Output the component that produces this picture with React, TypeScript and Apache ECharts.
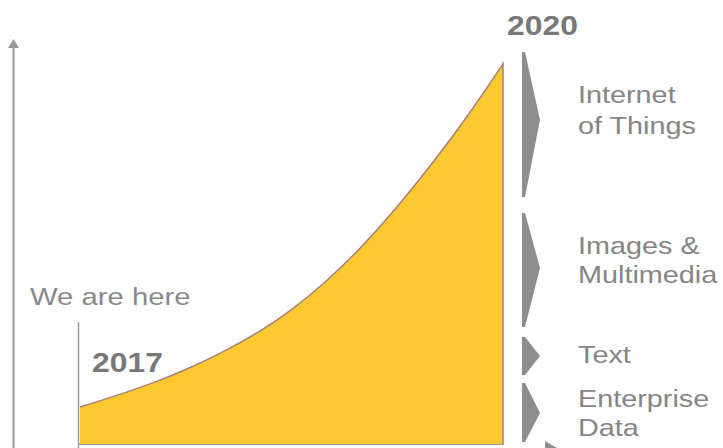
import React, { useEffect, useRef } from "react";
import * as echarts from "echarts";

// Data (x = year, y = relative data volume, 0..100)
const years = [2017, 2017.25, 2017.5, 2017.75, 2018, 2018.25, 2018.5, 2018.75, 2019, 2019.25, 2019.5, 2019.75, 2020];
const volume = [9.7, 12.6, 15.8, 19.5, 23.9, 29.0, 35.2, 42.8, 51.8, 62.2, 73.6, 86.0, 99.5];

const startLabel = "2017";
const endLabel = "2020";
const hereLabel = "We are here";
const sourceLabels = [
  ["Internet", "of Things"],
  ["Images &", "Multimedia"],
  ["Text"],
  ["Enterprise", "Data"],
];

const FONT = "'Liberation Sans', Arial, Helvetica, sans-serif";
const GRAY_TEXT = "#858585";
const GRAY_SHAPE = "#8e8e8e";

export default function App() {
  const ref = useRef<HTMLDivElement>(null);

  useEffect(() => {
    if (!ref.current) return;
    const chart = echarts.init(ref.current, undefined, { renderer: "svg" });

    const chevrons = [
      { top: 52, tip: 120, bot: 197 },
      { top: 213, tip: 268, bot: 327 },
      { top: 337, tip: 356, bot: 375 },
      { top: 383, tip: 413, bot: 442 },
    ];
    const labelY = [
      [95, 126],
      [246, 275],
      [355],
      [399, 428],
    ];

    const textEl = (t: string, x: number, y: number, size: number, bold: boolean, sx: number, color: string) => ({
      type: "text",
      x,
      y,
      scaleX: sx,
      style: {
        text: t,
        fill: color,
        font: `${bold ? "bold " : ""}${size}px ${FONT}`,
        textAlign: "left",
        textVerticalAlign: "middle",
      },
      silent: true,
    });

    const graphics: any[] = [
      // left axis with arrow
      {
        type: "line",
        shape: { x1: 13.5, y1: 44, x2: 13.5, y2: 448 },
        style: { stroke: "#9a9a9a", lineWidth: 2 },
        silent: true,
      },
      {
        type: "polygon",
        shape: { points: [[13.5, 39], [8, 48], [19, 48]] },
        style: { fill: "#9a9a9a" },
        silent: true,
      },
      // "we are here" marker line
      {
        type: "line",
        shape: { x1: 78.5, y1: 322, x2: 78.5, y2: 448 },
        style: { stroke: "#9a9a9a", lineWidth: 1.5 },
        silent: true,
      },
      // small arrow at bottom
      {
        type: "polygon",
        shape: { points: [[545, 441], [557, 448], [545, 448]] },
        style: { fill: GRAY_SHAPE },
        silent: true,
      },
      textEl(endLabel, 507, 25, 27, true, 1.18, "#787878"),
      textEl(startLabel, 92, 362, 27, true, 1.18, "#787878"),
      textEl(hereLabel, 30, 297, 24, false, 1.22, "#8a8a8a"),
    ];

    chevrons.forEach((c) => {
      graphics.push({
        type: "polygon",
        shape: {
          points: [
            [522, c.top],
            [525, c.top],
            [540, c.tip],
            [525, c.bot],
            [522, c.bot],
          ],
        },
        style: { fill: GRAY_SHAPE },
        silent: true,
      });
    });

    sourceLabels.forEach((lines, i) => {
      lines.forEach((l, j) => {
        graphics.push(textEl(l, 578, labelY[i][j], 24, false, 1.2, GRAY_TEXT));
      });
    });

    chart.setOption({
      animation: false,
      backgroundColor: "#ffffff",
      grid: { left: 80, right: 220, top: 62, bottom: 4, containLabel: false },
      xAxis: {
        type: "value",
        min: 2017,
        max: 2020,
        axisLine: { show: true, lineStyle: { color: "#9a9a9a", width: 2 } },
        axisTick: { show: false },
        axisLabel: { show: false },
        splitLine: { show: false },
      },
      yAxis: {
        type: "value",
        min: 0,
        max: 100,
        show: false,
        splitLine: { show: false },
      },
      series: [
        {
          type: "line",
          data: years.map((y, i) => [y, volume[i]]),
          smooth: 0.5,
          showSymbol: false,
          symbol: "none",
          lineStyle: { color: "#a5807a", width: 1.5 },
          areaStyle: { color: "#FEC830", opacity: 1 },
          z: 2,
          markLine: {
            silent: true,
            symbol: "none",
            label: { show: false },
            lineStyle: { color: "#a5807a", width: 1.5, type: "solid" },
            data: [{ xAxis: 2020 }],
          },
        },
      ],
      graphic: graphics,
    });

    return () => chart.dispose();
  }, []);

  return <div ref={ref} style={{ width: 723, height: 448, position: "absolute", left: 0, top: 0 }} />;
}
